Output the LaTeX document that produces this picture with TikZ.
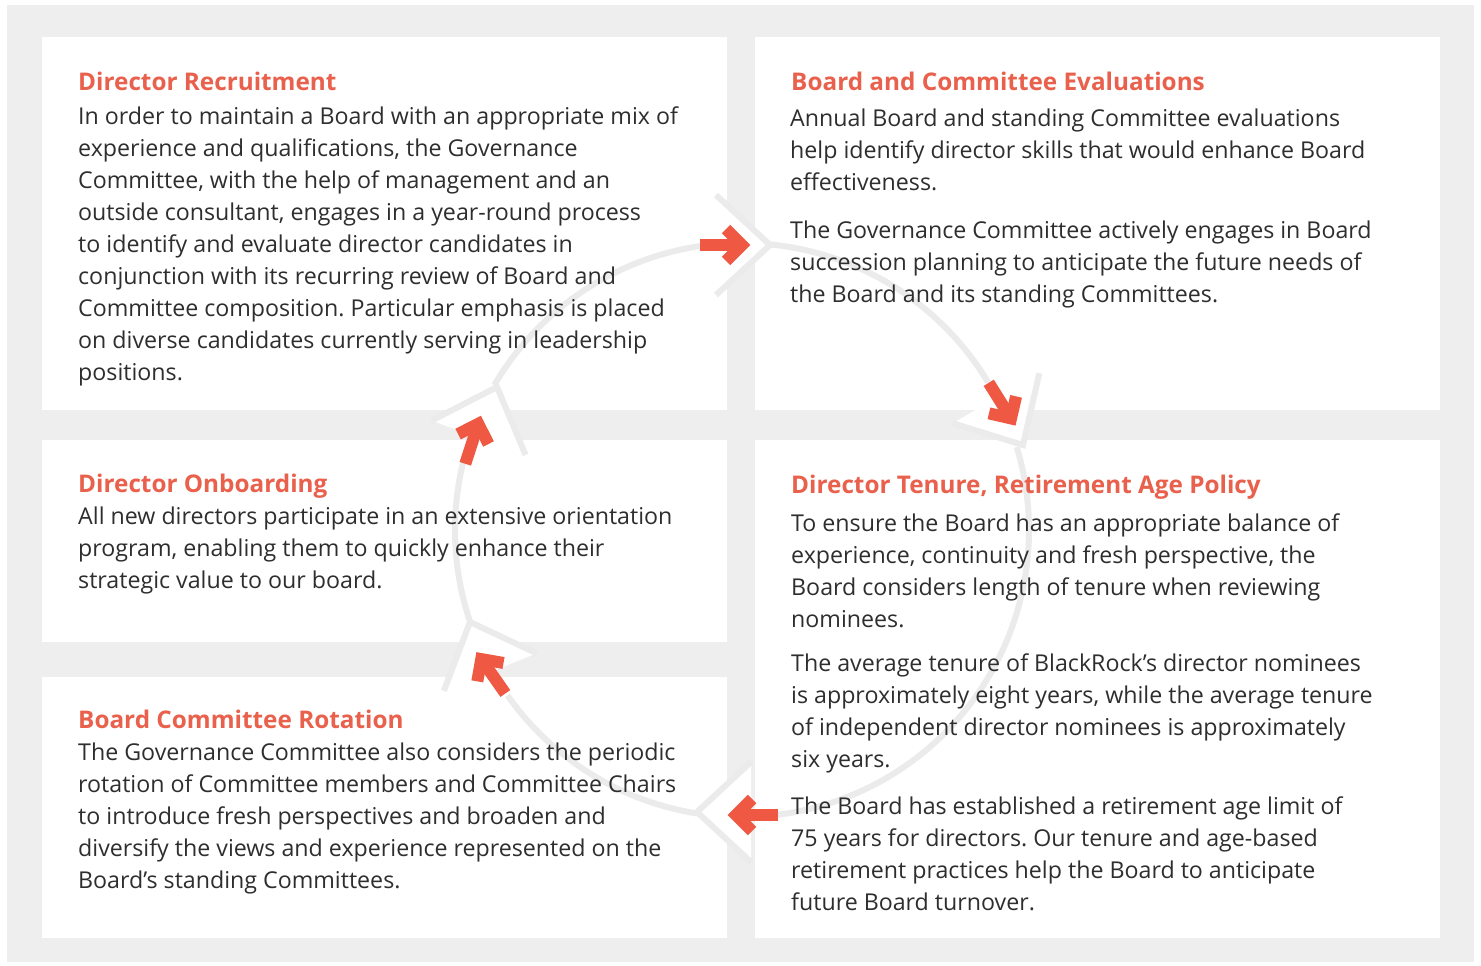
\documentclass[tikz,border=0pt]{standalone}
\usepackage{fontspec}
\setmainfont{Open Sans}
\frenchspacing
\definecolor{bggray}{HTML}{EEEEEE}
\definecolor{ringgray}{HTML}{EBEBEB}
\definecolor{accent}{HTML}{EF5843}
\definecolor{headc}{HTML}{E9614C}
\definecolor{txt}{HTML}{2E2E2E}
\tikzset{
  panel/.style={fill=white},
  ring/.style={draw=ringgray, line width=6pt, line cap=butt, line join=miter},
  arr/.style={draw=accent, line width=12pt, line cap=butt, line join=miter},
  bodytxt/.style={anchor=base west, inner sep=0pt, text=txt, font=\fontsize{23.2}{28}\selectfont},
  headtxt/.style={anchor=base west, inner sep=0pt, text=headc, font=\fontsize{24.3}{28}\selectfont\bfseries},
}
\newcommand\chevfill[2]{\begin{scope}[shift={#1}, rotate=#2]
  \fill[white] (0,0) -- (-54,50) -- (-54,-50) -- cycle;\end{scope}}
\newcommand\chevedge[2]{\begin{scope}[shift={#1}, rotate=#2]
  \draw[ring] (-54,50) -- (0,0) -- (-54,-50);\end{scope}}
\newcommand\redarrow[2]{\begin{scope}[shift={#1}, rotate=#2]
  \draw[arr] (-25,0) -- (14,0);
  \draw[arr] (1,-16) -- (17,0) -- (1,16);\end{scope}}
\newcommand\textlines[4]{\foreach \ln [count=\i from 0] in {#4} {\node[bodytxt] (#1-\i) at (#2, #3+32*\i) {\ln};}}
\begin{document}
\begin{tikzpicture}[x=1pt,y=-1pt]
\useasboundingbox (0,0) rectangle (1481,966);
\fill[white] (0,0) rectangle (1481,966);
\fill[bggray] (7,5) rectangle (1474,962);
% panels
\fill[panel] (42,37) rectangle (727,410);
\fill[panel] (755,37) rectangle (1440,410);
\fill[panel] (42,440) rectangle (727,642);
\fill[panel] (42,677) rectangle (727,938);
\fill[panel] (755,440) rectangle (1440,938);
% chevron patches
\chevfill{(770,245)}{0}
\chevfill{(1023,445)}{-60}
\chevfill{(697,812)}{180}
\chevfill{(470,622)}{112}
\chevfill{(497,387)}{70}
% ring arcs (angles mirrored because y points down)
\draw[ring] (742,530) ++(-84.4:287) arc[start angle=-84.4, end angle=-31, radius=287];
\draw[ring] (742,530) ++(-16.8:287) arc[start angle=-16.8, end angle=82.8, radius=287];
\draw[ring] (742,530) ++(99:287) arc[start angle=99, end angle=144.8, radius=287];
\draw[ring] (742,530) ++(161.3:287) arc[start angle=161.3, end angle=193.8, radius=287];
\draw[ring] (742,530) ++(210.3:287) arc[start angle=210.3, end angle=261.6, radius=287];
% chevron edges
\chevedge{(770,245)}{0}
\chevedge{(1023,445)}{-60}
\chevedge{(697,812)}{180}
\chevedge{(470,622)}{112}
\chevedge{(497,387)}{70}
% arrows
\redarrow{(725,245)}{0}
\redarrow{(1002,404)}{-58}
\redarrow{(753,815)}{180}
\redarrow{(491,673)}{125}
\redarrow{(473,440)}{72}
% texts
\node[headtxt] (h1) at (78,90) {Director Recruitment};
\textlines{t1}{78}{124}{In order to maintain a Board with an appropriate mix of,
{experience and qualifications, the Governance},
{Committee, with the help of management and an},
{outside consultant, engages in a year-round process},
to identify and evaluate director candidates in,
conjunction with its recurring review of Board and,
Committee composition. Particular emphasis is placed,
on diverse candidates currently serving in leadership,
positions.}
\node[headtxt] (h2) at (791,90) {Board and Committee Evaluations};
\textlines{t2}{790}{126}{Annual Board and standing Committee evaluations,
help identify director skills that would enhance Board,
effectiveness.}
\textlines{t3}{790}{238}{The Governance Committee actively engages in Board,
succession planning to anticipate the future needs of,
the Board and its standing Committees.}
\node[headtxt] (h3) at (78,492) {Director Onboarding};
\textlines{t4}{78}{524}{All new directors participate in an extensive orientation,
{program, enabling them to quickly enhance their},
strategic value to our board.}
\node[headtxt] (h4) at (78,728) {Board Committee Rotation};
\textlines{t5}{78}{760}{The Governance Committee also considers the periodic,
rotation of Committee members and Committee Chairs,
to introduce fresh perspectives and broaden and,
diversify the views and experience represented on the,
Board’s standing Committees.}
\node[headtxt] (h5) at (791,493) {Director Tenure, Retirement Age Policy};
\textlines{t6}{791}{531}{To ensure the Board has an appropriate balance of,
{experience, continuity and fresh perspective, the},
Board considers length of tenure when reviewing,
nominees.}
\textlines{t7}{791}{671}{The average tenure of BlackRock’s director nominees,
{is approximately eight years, while the average tenure},
of independent director nominees is approximately,
six years.}
\textlines{t8}{791}{814}{The Board has established a retirement age limit of,
75 years for directors. Our tenure and age-based,
retirement practices help the Board to anticipate,
future Board turnover.}
\end{tikzpicture}
\end{document}
